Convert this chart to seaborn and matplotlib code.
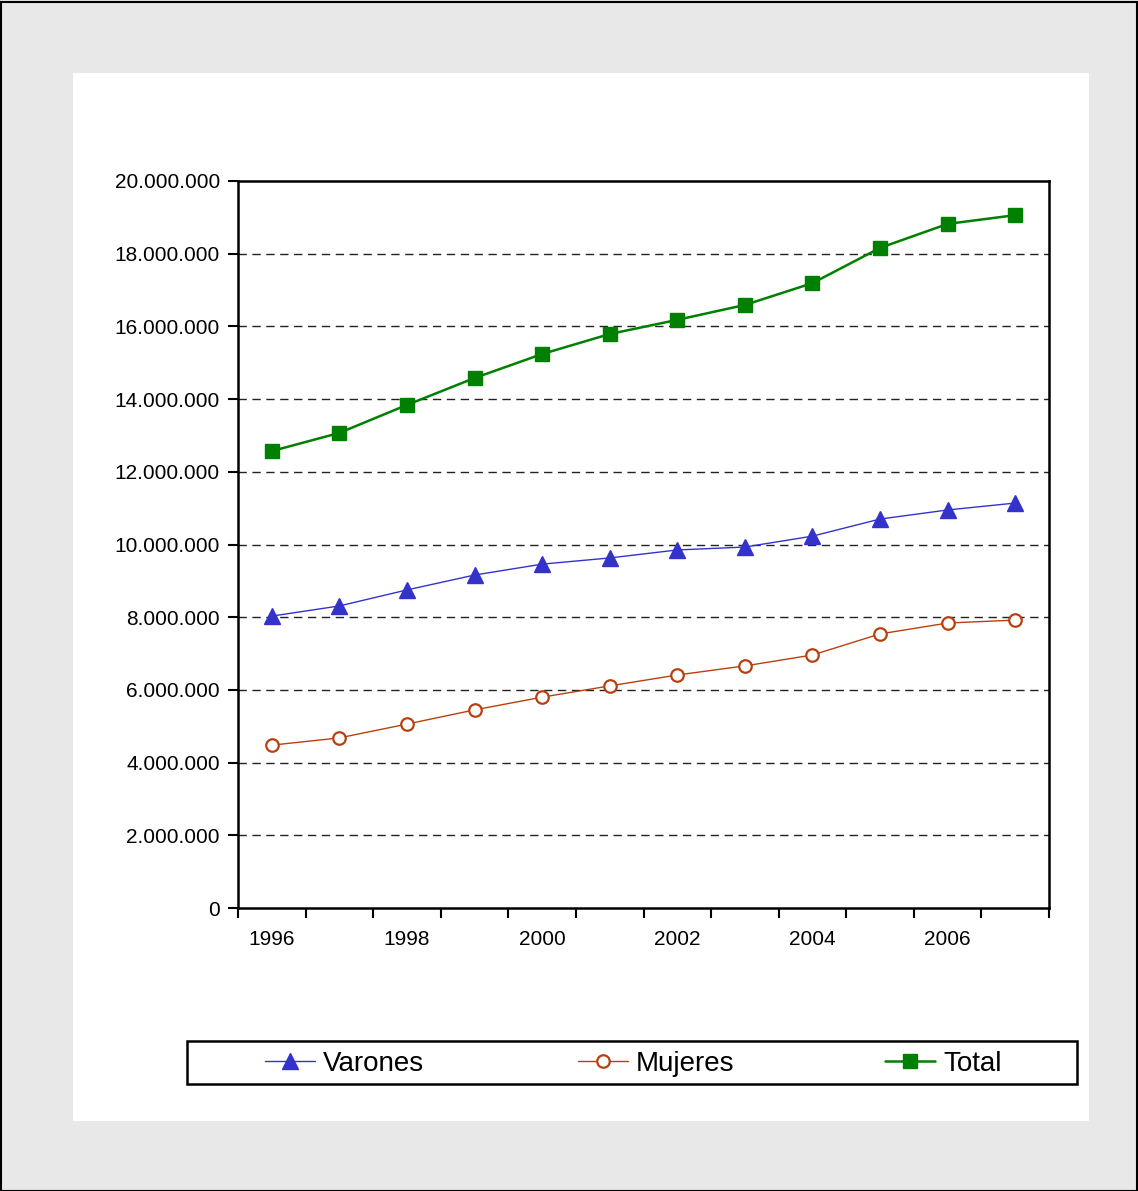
import matplotlib
matplotlib.use("Agg")
import matplotlib.pyplot as plt
import matplotlib.patches as mpatches
from matplotlib.ticker import FixedLocator, FuncFormatter, NullFormatter
import seaborn as sns
import pandas as pd
import numpy as np

years = [1996, 1997, 1998, 1999, 2000, 2001, 2002, 2003, 2004, 2005, 2006, 2007]
varones = [8.03, 8.31, 8.75, 9.16, 9.46, 9.63, 9.85, 9.93, 10.23, 10.70, 10.95, 11.14]
mujeres = [4.48, 4.68, 5.06, 5.45, 5.80, 6.11, 6.41, 6.66, 6.96, 7.54, 7.84, 7.92]
total = [12.57, 13.07, 13.84, 14.58, 15.24, 15.79, 16.18, 16.59, 17.19, 18.16, 18.82, 19.06]
series_names = ["Varones", "Mujeres", "Total"]
tick_labels = ["1996", "", "1998", "", "2000", "", "2002", "", "2004", "", "2006", ""]

sns.set_theme(style="white")
plt.rcParams["font.family"] = ["Liberation Sans", "DejaVu Sans"]

rows = []
for name, vals in zip(series_names, [varones, mujeres, total]):
    for i, v in enumerate(vals):
        rows.append({"pos": i, "value": v * 1e6, "serie": name})
df = pd.DataFrame(rows)

W, H = 1138, 1191
fig = plt.figure(figsize=(W / 100, H / 100), dpi=100)
fig.patch.set_facecolor("#e8e8e8")
# outer border
fig.add_artist(mpatches.Rectangle((0.5 / W, 0.5 / H), (W - 2) / W, (H - 2) / H,
                                  transform=fig.transFigure, fill=False,
                                  edgecolor="black", linewidth=1.5))
# white panel
fig.add_artist(mpatches.Rectangle((73 / W, 1 - 1121 / H), (1089 - 73) / W, (1121 - 73) / H,
                                  transform=fig.transFigure, facecolor="white",
                                  edgecolor="none", zorder=0))

ax = fig.add_axes([238 / W, 1 - 908 / H, (1049 - 238) / W, (908 - 181) / H])
ax.set_facecolor("white")

styles = {
    "Varones": dict(color="#3333CC", lw=1.0, marker="^", ms=11, mfc="#3333CC", mec="#3333CC"),
    "Mujeres": dict(color="#B84010", lw=1.0, marker="o", ms=9, mfc="white", mec="#B84010", mew=1.6),
    "Total": dict(color="#008000", lw=1.8, marker="s", ms=10, mfc="#008000", mec="#008000"),
}
handles = []
for name in series_names:
    st = styles[name]
    sub = df[df["serie"] == name]
    sns.lineplot(data=sub, x="pos", y="value", ax=ax, color=st["color"], linewidth=st["lw"],
                 marker=st["marker"], markersize=st["ms"], markerfacecolor=st["mfc"],
                 markeredgecolor=st["mec"], markeredgewidth=st.get("mew", 1.0),
                 legend=False, zorder=3)
    handles.append(plt.Line2D([], [], color=st["color"], linewidth=st["lw"], marker=st["marker"],
                              markersize=st["ms"], markerfacecolor=st["mfc"],
                              markeredgecolor=st["mec"], markeredgewidth=st.get("mew", 1.0)))

ax.set_xlim(-0.5, 11.5)
ax.set_ylim(0, 20e6)
ax.set_xlabel("")
ax.set_ylabel("")

ax.xaxis.set_major_locator(FixedLocator(np.arange(-0.5, 12.0, 1.0)))
ax.xaxis.set_major_formatter(NullFormatter())
ax.xaxis.set_minor_locator(FixedLocator(np.arange(0, 12)))
ax.set_xticklabels(tick_labels, minor=True)
ax.tick_params(axis="x", which="major", direction="out", length=7, width=1.5, color="black", bottom=True)
ax.tick_params(axis="x", which="minor", length=0, labelsize=15, pad=16, bottom=True, labelcolor="black")

ax.set_yticks(np.arange(0, 20e6 + 1, 2e6))
ax.yaxis.set_major_formatter(FuncFormatter(lambda v, p: f"{v:,.0f}".replace(",", ".")))
ax.tick_params(axis="y", direction="out", length=7, width=1.5, color="black", labelsize=15, pad=6,
               left=True, labelcolor="black")

for v in np.arange(2e6, 20e6, 2e6):
    ax.axhline(v, color="#222222", linestyle=(0, (6, 4)), linewidth=1.0, zorder=1)

for s in ax.spines.values():
    s.set_visible(True)
    s.set_color("black")
    s.set_linewidth(1.8)

# legend frame
fig.add_artist(mpatches.Rectangle((187 / W, 1 - 1084 / H), (1077 - 187) / W, (1084 - 1041) / H,
                                  transform=fig.transFigure, facecolor="white",
                                  edgecolor="black", linewidth=1.8, zorder=2))
legend_x = [265, 578, 885]
for hx, h, name in zip(legend_x, handles, series_names):
    lg = fig.legend([h], [name], loc="center left", bbox_to_anchor=(hx / W, 1 - 1064 / H),
                    fontsize=20, frameon=False, handlelength=1.8, handletextpad=0.29,
                    borderaxespad=0, borderpad=0)
    lg.set_zorder(3)
    for t in lg.get_texts():
        t.set_color("black")

fig.savefig("out.png", dpi=100, facecolor=fig.get_facecolor())
